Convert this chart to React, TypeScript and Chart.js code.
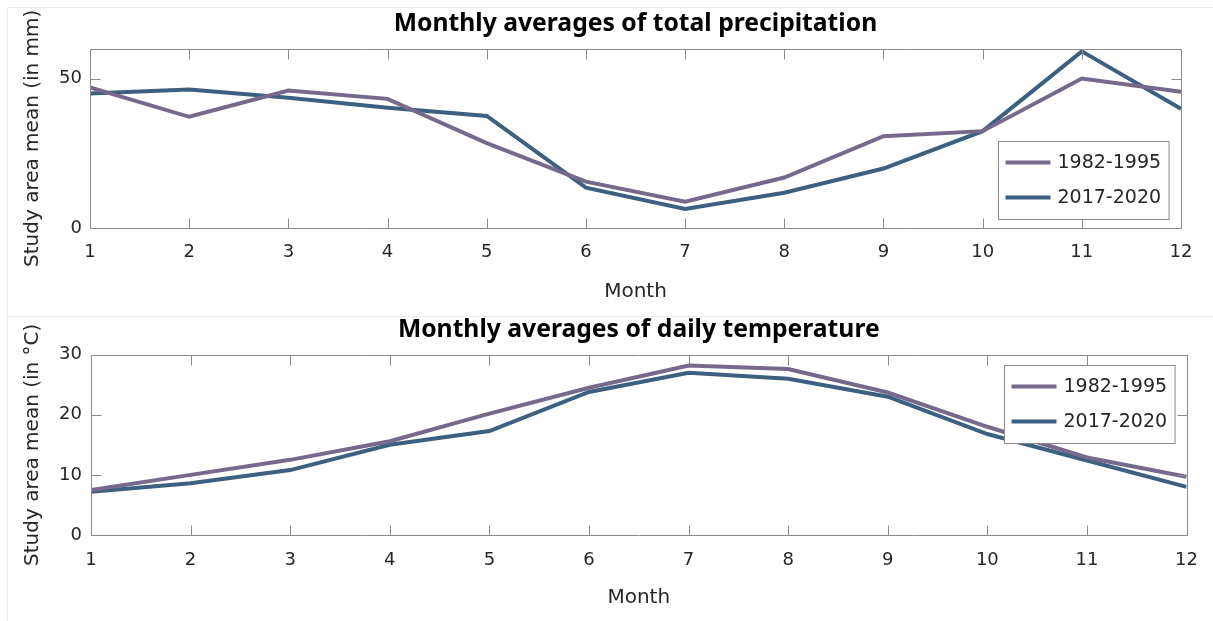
import React, { useEffect, useRef } from "react";
import { Chart, registerables } from "chart.js";

Chart.register(...registerables);

// ---- data ----
const months = [1, 2, 3, 4, 5, 6, 7, 8, 9, 10, 11, 12];
const seriesLabels = ["1982-1995", "2017-2020"];
const precip1982 = [47.0, 37.2, 46.0, 43.2, 28.4, 15.5, 8.8, 16.9, 30.7, 32.4, 50.0, 45.6];
const precip2017 = [45.0, 46.3, 43.6, 40.2, 37.5, 13.5, 6.4, 11.8, 19.9, 32.4, 59.1, 39.9];
const temp1982 = [7.5, 10.0, 12.5, 15.6, 20.2, 24.5, 28.2, 27.6, 23.7, 18.0, 12.9, 9.7];
const temp2017 = [7.2, 8.6, 10.8, 15.0, 17.3, 23.8, 27.0, 26.0, 23.0, 16.8, 12.4, 8.0];
const precipTicks = [0, 50];
const tempTicks = [0, 10, 20, 30];
const monthTicks = months;

const colors = ["#76698c", "#3d5f80"];
const FONT = "'DejaVu Sans', sans-serif";

const boxPlugin = {
  id: "matlabBox",
  afterDatasetsDraw(chart: any) {
    const { ctx, chartArea: a, scales } = chart;
    ctx.save();
    ctx.strokeStyle = "#8a8a8a";
    ctx.lineWidth = 1;
    const L = Math.round(a.left) + 0.5;
    const R = Math.round(a.right) + 0.5;
    const T = Math.round(a.top) + 0.5;
    const B = Math.round(a.bottom) + 0.5;
    ctx.beginPath();
    ctx.rect(L, T, R - L, B - T);
    const tl = 10;
    scales.x.ticks.forEach((t: any) => {
      const px = Math.round(scales.x.getPixelForValue(t.value)) + 0.5;
      ctx.moveTo(px, B);
      ctx.lineTo(px, B - tl);
      ctx.moveTo(px, T);
      ctx.lineTo(px, T + tl);
    });
    scales.y.ticks.forEach((t: any) => {
      const py = Math.round(scales.y.getPixelForValue(t.value)) + 0.5;
      ctx.moveTo(L, py);
      ctx.lineTo(L + tl, py);
      ctx.moveTo(R, py);
      ctx.lineTo(R - tl, py);
    });
    ctx.stroke();
    ctx.restore();
  },
};

const legendPlugin = {
  id: "insideLegend",
  afterDraw(chart: any, _args: any, opts: any) {
    const { ctx, chartArea: a } = chart;
    ctx.save();
    ctx.font = `19px ${FONT}`;
    const items = chart.data.datasets.map((d: any) => ({ text: d.label, color: d.borderColor }));
    const textW = Math.max(...items.map((i: any) => ctx.measureText(i.text).width));
    const lineLen = 45, padL = 7, gap = 7, padR = 8, rowH = 35, firstRow = 21;
    const w = padL + lineLen + gap + textW + padR;
    const h = 78;
    const x = Math.round(a.right - opts.right - w) + 0.5;
    const y = Math.round(opts.corner === "bottom" ? a.bottom - opts.offset - h : a.top + opts.offset) + 0.5;
    ctx.fillStyle = "#ffffff";
    ctx.fillRect(x, y, w, h);
    ctx.strokeStyle = "#8a8a8a";
    ctx.lineWidth = 1;
    ctx.strokeRect(x, y, w, h);
    items.forEach((it: any, i: number) => {
      const cy = y + firstRow + i * rowH;
      ctx.strokeStyle = it.color;
      ctx.lineWidth = 4;
      ctx.beginPath();
      ctx.moveTo(x + padL, cy);
      ctx.lineTo(x + padL + lineLen, cy);
      ctx.stroke();
      ctx.fillStyle = "#262626";
      ctx.textBaseline = "middle";
      ctx.textAlign = "left";
      ctx.fillText(it.text, x + padL + lineLen + gap, cy + 1);
    });
    ctx.restore();
  },
};

type Params = {
  title: string;
  yTitle: string;
  a: number[];
  b: number[];
  yMax: number;
  yTicks: number[];
  yW: number;
  xH: number;
  rightPad: number;
  xTickPad: number;
  yTickPad: number;
  legendCorner: string;
  legendOffset: number;
};

function makeConfig(p: Params): any {
  return {
    type: "line",
    data: {
      datasets: [
        {
          label: seriesLabels[0],
          data: months.map((m, i) => ({ x: m, y: p.a[i] })),
          borderColor: colors[0],
          borderWidth: 4,
          pointRadius: 0,
          fill: false,
          tension: 0,
        },
        {
          label: seriesLabels[1],
          data: months.map((m, i) => ({ x: m, y: p.b[i] })),
          borderColor: colors[1],
          borderWidth: 4,
          pointRadius: 0,
          fill: false,
          tension: 0,
        },
      ],
    },
    options: {
      animation: false,
      responsive: false,
      layout: { padding: { left: 0, right: p.rightPad, top: 0, bottom: 0 } },
      plugins: {
        legend: { display: false },
        tooltip: { enabled: false },
        title: {
          display: true,
          text: p.title,
          fullSize: false,
          color: "#000000",
          font: { family: "'Noto Sans', sans-serif", size: 24.7, weight: "bold", lineHeight: 1.2 },
          padding: { top: 9, bottom: 10 },
        },
        insideLegend: { corner: p.legendCorner, offset: p.legendOffset, right: 12 },
      },
      scales: {
        x: {
          type: "linear",
          min: 1,
          max: 12,
          afterBuildTicks: (s: any) => {
            s.ticks = monthTicks.map((v) => ({ value: v }));
          },
          afterFit: (s: any) => {
            s.height = p.xH;
          },
          grid: { display: false, drawTicks: false },
          border: { display: false },
          ticks: {
            padding: p.xTickPad,
            color: "#262626",
            font: { family: FONT, size: 18 },
            maxRotation: 0,
            autoSkip: false,
          },
          title: {
            display: true,
            text: "Month",
            color: "#262626",
            font: { family: FONT, size: 20, lineHeight: 1.2 },
            padding: { top: 0, bottom: 11 },
          },
        },
        y: {
          type: "linear",
          min: 0,
          max: p.yMax,
          afterBuildTicks: (s: any) => {
            s.ticks = p.yTicks.map((v) => ({ value: v }));
          },
          afterFit: (s: any) => {
            s.width = p.yW;
          },
          grid: { display: false, drawTicks: false },
          border: { display: false },
          ticks: {
            padding: p.yTickPad,
            color: "#262626",
            font: { family: FONT, size: 18 },
          },
          title: {
            display: true,
            text: p.yTitle,
            color: "#262626",
            font: { family: FONT, size: 20, lineHeight: 1.2 },
            padding: { top: 21, bottom: 0 },
          },
        },
      },
    },
    plugins: [boxPlugin, legendPlugin],
  };
}

function ChartCanvas({ params, top, height }: { params: Params; top: number; height: number }) {
  const ref = useRef<HTMLCanvasElement | null>(null);
  useEffect(() => {
    if (!ref.current) return;
    const chart = new Chart(ref.current, makeConfig(params));
    return () => chart.destroy();
  }, []);
  return (
    <canvas
      ref={ref}
      width={1213}
      height={height}
      style={{ position: "absolute", left: 0, top, width: 1213, height }}
    />
  );
}

const topParams: Params = {
  title: "Monthly averages of total precipitation",
  yTitle: "Study area mean (in mm)",
  a: precip1982,
  b: precip2017,
  yMax: 60,
  yTicks: precipTicks,
  yW: 90,
  xH: 87,
  rightPad: 32,
  xTickPad: 14,
  yTickPad: 8,
  legendCorner: "bottom",
  legendOffset: 9,
};

const bottomParams: Params = {
  title: "Monthly averages of daily temperature",
  yTitle: "Study area mean (in °C)",
  a: temp1982,
  b: temp2017,
  yMax: 30,
  yTicks: tempTicks,
  yW: 91,
  xH: 86,
  rightPad: 19,
  xTickPad: 15,
  yTickPad: 9,
  legendCorner: "top",
  legendOffset: 10,
};

export default function App() {
  const frame = (top: number, height: number): React.CSSProperties => ({
    position: "absolute",
    left: 7,
    top,
    width: 1213 - 7,
    height,
    borderTop: "1px solid #ebebeb",
    borderLeft: "1px solid #ebebeb",
    boxSizing: "border-box",
  });
  return (
    <div
      style={{
        position: "fixed",
        left: 0,
        top: 0,
        width: 1213,
        height: 621,
        background: "#ffffff",
        overflow: "hidden",
      }}
    >
      <div style={frame(7, 309)} />
      <div style={frame(316, 305)} />
      <ChartCanvas params={topParams} top={0} height={315} />
      <ChartCanvas params={bottomParams} top={306} height={315} />
    </div>
  );
}
